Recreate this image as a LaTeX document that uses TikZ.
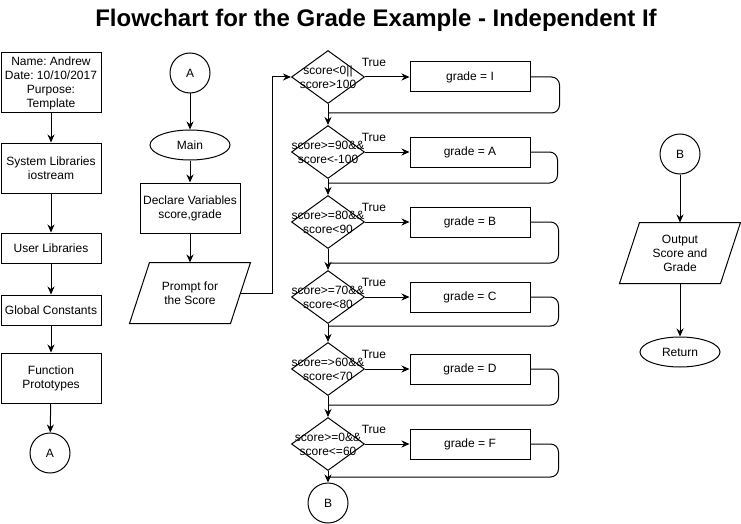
\documentclass[tikz,border=0pt]{standalone}
\usepackage{fontspec}
\setmainfont{Liberation Sans}
\frenchspacing
\usetikzlibrary{shapes.geometric, arrows.meta, positioning}

\tikzstyle{process}   = [rectangle, draw=black, minimum width=100pt, minimum height=30pt, inner sep=2pt, align=center]
\tikzstyle{gradebox}  = [rectangle, draw=black, minimum width=120pt, minimum height=30pt]
\tikzstyle{connector} = [circle, draw=black, minimum size=40pt, inner sep=0pt]
\tikzstyle{terminal}  = [ellipse, draw=black, minimum width=80pt, minimum height=30pt, inner sep=0pt]
\tikzstyle{decision}  = [diamond, draw=black, minimum width=73pt, minimum height=53pt, inner sep=0pt]
\tikzstyle{inout}     = [rectangle, minimum width=100pt, minimum height=60pt, inner sep=2pt, align=center]
\tikzstyle{backloop}  = [rounded corners=8pt]
% slanted outline round an inout node
\newcommand{\slantbox}[1]{\draw ([xshift=10pt]#1.north west) -- ([xshift=10pt]#1.north east) -- ([xshift=-10pt]#1.south east) -- ([xshift=-10pt]#1.south west) -- cycle;}

\begin{document}
\begin{tikzpicture}[x=1pt, y=-1pt, line width=1pt, node distance=142pt,
    >={Stealth[length=8pt, width=7pt]}, font=\fontsize{12}{14}\selectfont]
        \useasboundingbox (0,0) rectangle (741,524);
        \node (title)   [anchor=base, font=\fontsize{24}{28}\selectfont\bfseries] at (376,27) {Flowchart for the Grade Example - Independent If};
        % left column
        \node (header)  [process, minimum height=60pt] at (51,83)    {Name: Andrew\\Date: 10/10/2017\\Purpose:\\Template};
        \node (syslib)  [process, minimum height=50pt] at (51,168)   {System Libraries\\iostream};
        \node (userlib) [process]                      at (51,248)   {User Libraries};
        \node (global)  [process]                      at (51,310)   {Global Constants};
        \node (proto)   [process, minimum height=50pt] at (51,378)   {Function\\Prototypes};
        \node (outA)    [connector]                    at (50,453)   {A};
        % main column
        \node (inA)     [connector]                    at (190,73)   {A};
        \node (main)    [terminal]                     at (190,145)  {Main};
        \node (declare) [process, minimum height=50pt] at (190,208)  {Declare Variables\\score,grade};
        \node (prompt)  [inout]                        at (190,293)  {Prompt for\\the Score};
        \slantbox{prompt}
        \coordinate (up) at (272,77);
        % decisions
        \node (dI) [decision, label={[align=center]center:score<0||\\score>100}]      at (328,77)  {};
        \node (dA) [decision, label={[align=center]center:score>=90\&\&\\score<-100}] at (328,152) {};
        \node (dB) [decision, label={[align=center]center:score>=80\&\&\\score<90}]   at (328,222) {};
        \node (dC) [decision, label={[align=center]center:score>=70\&\&\\score<80}]   at (328,297) {};
        \node (dD) [decision, label={[align=center]center:score=>60\&\&\\score<70}]   at (328,369) {};
        \node (dF) [decision, label={[align=center]center:score>=0\&\&\\score<=60}]   at (328,444) {};
        \node (outB) [connector] at (328,503) {B};
        \node (gI) [gradebox, right of=dI] {grade = I};
        \node (gA) [gradebox, right of=dA] {grade = A};
        \node (gB) [gradebox, right of=dB] {grade = B};
        \node (gC) [gradebox, right of=dC] {grade = C};
        \node (gD) [gradebox, right of=dD] {grade = D};
        \node (gF) [gradebox, right of=dF] {grade = F};
        \coordinate (mI) at (328,113);
        \coordinate (mA) at (328,183);
        \coordinate (mB) at (328,263);
        \coordinate (mC) at (328,326);
        \coordinate (mD) at (328,405);
        \coordinate (mF) at (328,477);
        % right column
        \node (inB)     [connector]                    at (680,154)  {B};
        \node (output)  [inout]                        at (680,253)  {Output\\Score and\\Grade};
        \slantbox{output}
        \node (return)  [terminal]                     at (680,352)  {Return};

        \draw[->] (header)  -- (syslib);
        \draw[->] (syslib)  -- (userlib);
        \draw[->] (userlib) -- (global);
        \draw[->] (global)  -- (proto);
        \draw[->] (proto)   -- (outA);
        \draw[->] (inA)     -- (main);
        \draw[->] (main)    -- (declare);
        \draw[->] (declare) -- (prompt);
        \draw[->] (prompt.east) -| (up) -- (dI);
        \draw[->] (dI) -- (dA);
        \draw[->] (dA) -- (dB);
        \draw[->] (dB) -- (dC);
        \draw[->] (dC) -- (dD);
        \draw[->] (dD) -- (dF);
        \draw[->] (dF) -- (outB);
        \draw[->] (dI) -- node[pos=0.2, above=7pt] {True} (gI);
        \draw[->] (dA) -- node[pos=0.2, above=7pt] {True} (gA);
        \draw[->] (dB) -- node[pos=0.2, above=7pt] {True} (gB);
        \draw[->] (dC) -- node[pos=0.2, above=7pt] {True} (gC);
        \draw[->] (dD) -- node[pos=0.2, above=7pt] {True} (gD);
        \draw[->] (dF) -- node[pos=0.2, above=7pt] {True} (gF);
        \draw[backloop] (gI.east) -- ++(29,0) |- (mI);
        \draw[backloop] (gA.east) -- ++(27,0) |- (mA);
        \draw[backloop] (gB.east) -- ++(28,0) |- (mB);
        \draw[backloop] (gC.east) -- ++(28,0) |- (mC);
        \draw[backloop] (gD.east) -- ++(28,0) |- (mD);
        \draw[backloop] (gF.east) -- ++(28,0) |- (mF);
        \draw[->] (inB)     -- (output);
        \draw[->] (output)  -- (return);
    \end{tikzpicture}
\end{document}
